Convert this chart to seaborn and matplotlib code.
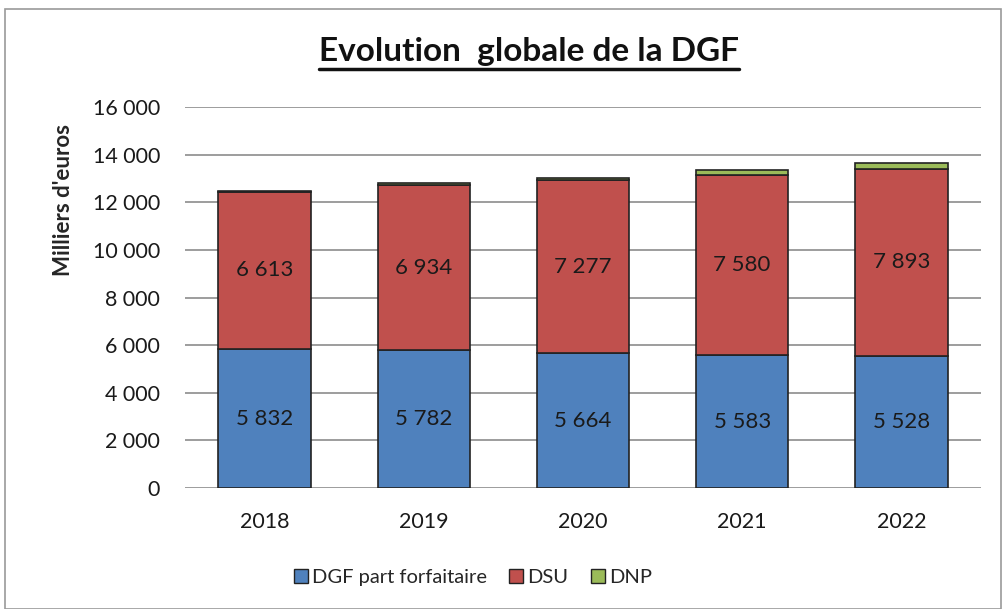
import matplotlib
matplotlib.use("Agg")
import matplotlib.pyplot as plt
import seaborn as sns
import pandas as pd
from matplotlib.patches import Patch, Rectangle
from matplotlib.lines import Line2D

# données (milliers d'euros)
annees = ["2018", "2019", "2020", "2021", "2022"]
dgf_forfaitaire = [5832, 5782, 5664, 5583, 5528]
dsu = [6613, 6934, 7277, 7580, 7893]
dnp = [40, 100, 100, 200, 220]

series = ["DGF part forfaitaire", "DSU", "DNP"]
couleurs = ["#4F81BD", "#C0504D", "#9BBB59"]


def fmt_fr(v):
    return f"{v:,.0f}".replace(",", "\u202f")


sns.set_style("white")
plt.rcParams["font.family"] = ["Lato", "DejaVu Sans"]

df = pd.DataFrame({"annee": annees, "DGF part forfaitaire": dgf_forfaitaire,
                   "DSU": dsu, "DNP": dnp})

fig = plt.figure(figsize=(10.02, 6.09), dpi=100)
ax = fig.add_axes([0.1846, 0.1987, 0.7944, 0.6253])

# cadre du graphique
fig.patches.append(Rectangle((0.005, 0.0), 0.994, 0.985, transform=fig.transFigure,
                             fill=False, edgecolor="#9a9a9a", linewidth=1.2))

bas = [0] * len(annees)
for nom, coul in zip(series, couleurs):
    sns.barplot(data=df, x="annee", y=nom, color=coul, bottom=bas, width=0.58,
                edgecolor="#222222", linewidth=1.2, saturation=1, ax=ax)
    bas = [b + v for b, v in zip(bas, df[nom])]

# étiquettes de données
for i in range(len(annees)):
    ax.text(i, dgf_forfaitaire[i] / 2, fmt_fr(dgf_forfaitaire[i]), ha="center",
            va="center", fontsize=16, color="#1a1a1a")
    ax.text(i, dgf_forfaitaire[i] + dsu[i] / 2, fmt_fr(dsu[i]), ha="center",
            va="center", fontsize=16, color="#1a1a1a")

ax.set_ylim(0, 16000)
ax.set_xlim(-0.5, 4.5)
ax.set_yticks(range(0, 16001, 2000))
ax.set_yticklabels([fmt_fr(v) for v in range(0, 16001, 2000)])
ax.yaxis.grid(True, color="#8c8c8c", linewidth=1.2)
ax.set_axisbelow(True)
for s in ax.spines.values():
    s.set_visible(False)
ax.tick_params(axis="both", length=0, labelsize=15.5, colors="#1a1a1a")
ax.tick_params(axis="y", pad=18)
ax.tick_params(axis="x", pad=17)
ax.set_xlabel("")
ax.set_ylabel("Milliers d'euros", fontsize=16, fontweight="bold")
ax.yaxis.set_label_coords(-0.14, 0.756)

# titre souligné
titre = fig.text(0.528, 0.915, "Evolution  globale de la DGF", ha="center",
                 va="center", fontsize=24, fontweight="bold", color="#111111")
fig.canvas.draw()
bb = titre.get_window_extent().transformed(fig.transFigure.inverted())
fig.lines.append(Line2D([bb.x0, bb.x1], [bb.y0 - 0.004, bb.y0 - 0.004],
                        transform=fig.transFigure, color="#111111", linewidth=2.5))

handles = [Patch(facecolor=c, edgecolor="#222222", linewidth=1) for c in couleurs]
fig.legend(handles, series, loc="center", bbox_to_anchor=(0.472, 0.052), ncol=3,
           frameon=False, fontsize=14.5, handlelength=0.7, handleheight=0.7,
           handletextpad=0.2, columnspacing=1.1)

fig.savefig("out.png", dpi=100)
